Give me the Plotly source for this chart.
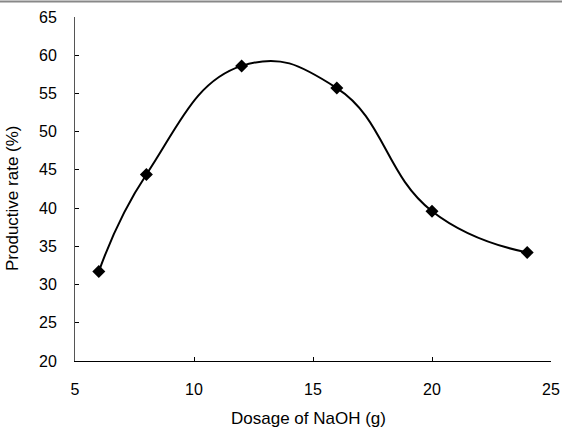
import plotly.graph_objects as go

dosage = [6, 8, 12, 16, 20, 24]
rate = [31.7, 44.4, 58.6, 55.7, 39.6, 34.2]

x_ticks = [5, 10, 15, 20, 25]
y_ticks = [20, 25, 30, 35, 40, 45, 50, 55, 60, 65]

x_title = "Dosage of NaOH (g)"
y_title = "Productive rate (%)"

W, H = 562, 430
L, R, T, B = 75, 11, 17, 69
PW, PH = W - L - R, H - T - B

fig = go.Figure()
fig.add_trace(go.Scatter(
    x=dosage, y=rate, mode="lines+markers",
    line=dict(color="black", width=2, shape="spline", smoothing=1.3),
    marker=dict(symbol="diamond", size=10, color="black"),
    showlegend=False,
))

fig.update_layout(
    width=W, height=H,
    margin=dict(l=L, r=R, t=T, b=B, autoexpand=False),
    paper_bgcolor="white", plot_bgcolor="white",
    font=dict(family="Liberation Sans, Arial, sans-serif", size=16, color="black"),
)
fig.add_shape(type="line", xref="paper", yref="paper", x0=-L / PW, x1=1 + R / PW,
              y0=1 + (T - 1.5) / PH, y1=1 + (T - 1.5) / PH,
              line=dict(color="#888888", width=2), layer="above")

fig.add_annotation(text=x_title, xref="paper", yref="paper", x=(308 - L) / PW,
                   y=-(418 - (T + PH)) / PH, xanchor="center", yanchor="middle",
                   showarrow=False, font=dict(size=17))
fig.add_annotation(text=y_title, xref="paper", yref="paper", x=(12 - L) / PW,
                   y=((T + PH) - 198) / PH, xanchor="center", yanchor="middle",
                   textangle=-90, showarrow=False, font=dict(size=17))

fig.update_xaxes(
    range=[5, 25], tickvals=x_ticks, ticks="inside", ticklen=4, tickcolor="black",
    showline=True, linecolor="black", linewidth=1, showgrid=False, zeroline=False,
    tickfont=dict(size=16), ticklabelstandoff=14, automargin=False,
)
fig.update_yaxes(
    range=[20, 65], tickvals=y_ticks, ticks="inside", ticklen=4, tickcolor="black",
    showline=True, linecolor="#555555", linewidth=1, showgrid=False, zeroline=False,
    tickfont=dict(size=16), ticklabelstandoff=14, automargin=False,
)

fig.write_html("out.html", config={"displayModeBar": False},
               post_script="document.body.style.margin='0px';")
